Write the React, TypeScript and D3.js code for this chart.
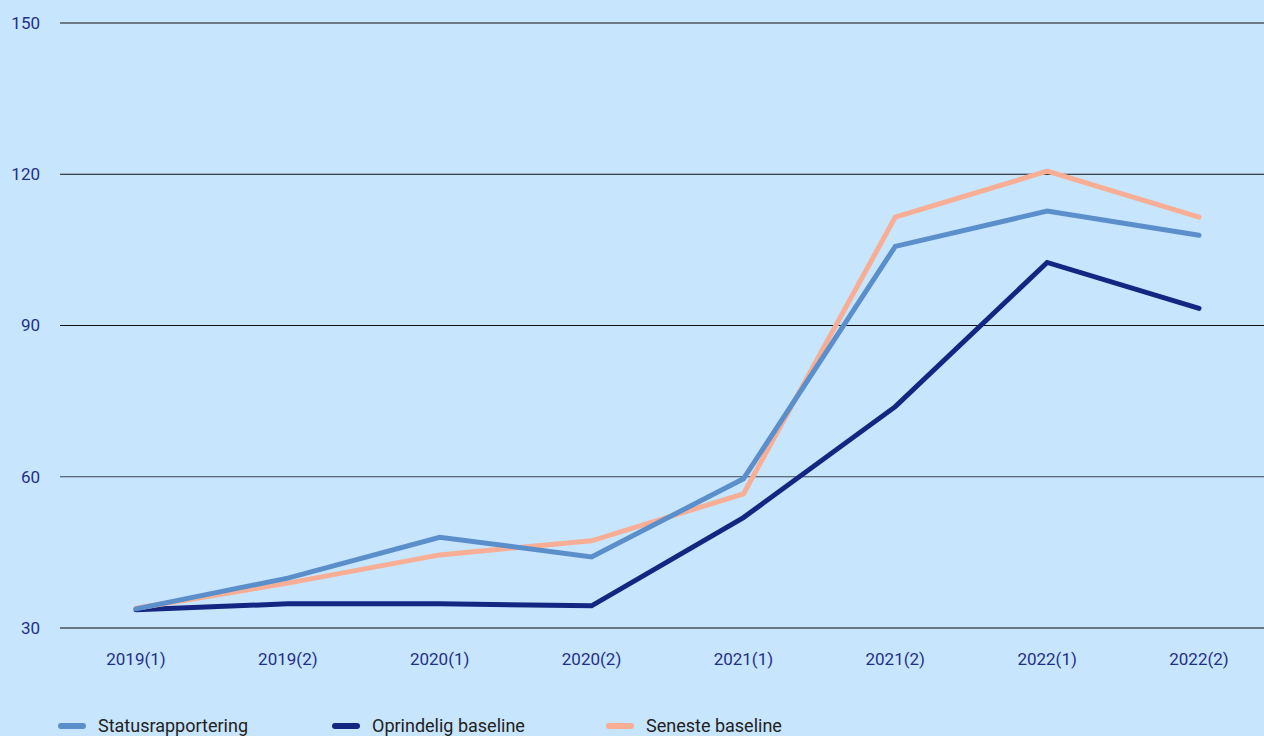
import React from 'react';
import * as d3 from 'd3';

const periods = ['2019(1)', '2019(2)', '2020(1)', '2020(2)', '2021(1)', '2021(2)', '2022(1)', '2022(2)'];
const statusValues = [33.8, 39.9, 48.0, 44.1, 59.6, 105.7, 112.7, 107.9];
const originalValues = [33.6, 34.8, 34.8, 34.4, 51.9, 73.9, 102.5, 93.4];
const latestValues = [33.9, 38.9, 44.5, 47.3, 56.6, 111.5, 120.6, 111.5];
const yTicks = [30, 60, 90, 120, 150];

const series = [
    { name: 'Statusrapportering', values: statusValues, color: '#5b8fcb' },
    { name: 'Oprindelig baseline', values: originalValues, color: '#142682' },
    { name: 'Seneste baseline', values: latestValues, color: '#f8ae94' }
];

const WIDTH = 1264;
const HEIGHT = 736;
const FONT = 'Roboto, "DejaVu Sans", sans-serif';

export default function App() {
    const x = d3.scalePoint<string>().domain(periods).range([136, 1199]);
    const y = d3.scaleLinear().domain([30, 150]).range([628, 23]);

    const line = d3.line<number>()
        .x((d, i) => x(periods[i]) as number)
        .y(d => y(d));

    // seneste sits under status where they cross
    const drawOrder = [series[1], series[2], series[0]];

    return (
        <svg width={WIDTH} height={HEIGHT}
            style={{ position: 'fixed', left: 0, top: 0, background: '#c7e5fd' }}>
            <rect width={WIDTH} height={HEIGHT} fill="#c7e5fd" />
            {yTicks.map(t => (
                <g key={t}>
                    <line x1={60} x2={WIDTH} y1={y(t)} y2={y(t)}
                        stroke={t === 30 ? '#6a7586' : t === 60 ? '#3a4452' : '#111'}
                        strokeWidth={t === 30 ? 2 : 1} />
                    <text x={40} y={y(t)} dy="0.35em" textAnchor="end"
                        fontFamily={FONT} fontSize={17} fill="#1f3088">{t}</text>
                </g>
            ))}
            {periods.map(p => (
                <text key={p} x={x(p)} y={659} dy="0.35em" textAnchor="middle"
                    fontFamily={FONT} fontSize={17} fill="#1f3088">{p}</text>
            ))}
            {drawOrder.map(s => (
                <path key={s.name} d={line(s.values) || ''} fill="none"
                    stroke={s.color} strokeWidth={5} strokeLinecap="round" strokeLinejoin="miter" />
            ))}
            {series.map((s, i) => {
                const lx = [58, 332, 606][i];
                return (
                    <g key={s.name} transform={`translate(${lx},726)`}>
                        <line x1={3} x2={25} y1={0} y2={0} stroke={s.color}
                            strokeWidth={6} strokeLinecap="round" />
                        <text x={40} y={0} dy="0.35em" fontFamily={FONT} fontSize={18} fill="#222">{s.name}</text>
                    </g>
                );
            })}
        </svg>
    );
}
